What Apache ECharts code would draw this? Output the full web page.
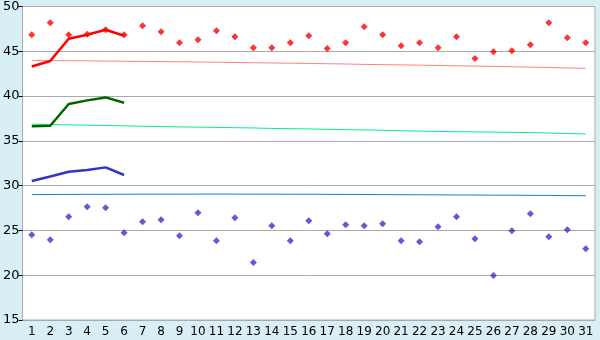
<!DOCTYPE html>
<html>
<head>
<meta charset="utf-8">
<script src="https://cdn.jsdelivr.net/npm/echarts@6/dist/echarts.min.js"></script>
<style>
  html, body { margin: 0; padding: 0; background: #d9eff6; }
  #main { width: 600px; height: 340px; }
</style>
</head>
<body>
<div id="main"></div>
<script>
var days = [];
for (var d = 1; d <= 31; d++) days.push(String(d));

// scatter points
var redPts = [46.85, 48.19, 46.85, 46.9, 47.4, 46.85, 47.85, 47.18, 45.96, 46.3,
  47.3, 46.63, 45.4, 45.4, 45.96, 46.74, 45.3, 45.96, 47.74, 46.85,
  45.63, 45.96, 45.4, 46.63, 44.19, 44.96, 45.07, 45.74, 48.19, 46.52, 45.96];
var bluePts = [24.52, 23.96, 26.52, 27.63, 27.52, 24.74, 25.96, 26.19, 24.41, 26.96,
  23.85, 26.41, 21.41, 25.52, 23.85, 26.08, 24.63, 25.63, 25.52, 25.74,
  23.85, 23.74, 25.41, 26.52, 24.08, 19.96, 24.96, 26.85, 24.3, 25.07, 22.96];

// thick lines, first six days
var redThick = [43.3, 43.92, 46.4, 46.85, 47.4, 46.74];
var greenThick = [36.62, 36.68, 39.11, 39.52, 39.85, 39.26];
var blueThick = [30.52, 31.03, 31.55, 31.74, 32.04, 31.19];

// thin trend lines
var redTrend = [43.98, 43.96, 43.95, 43.93, 43.91, 43.89, 43.87, 43.85, 43.83, 43.8,
  43.78, 43.75, 43.72, 43.7, 43.67, 43.64, 43.61, 43.58, 43.54, 43.51,
  43.48, 43.45, 43.42, 43.38, 43.35, 43.31, 43.27, 43.23, 43.19, 43.14, 43.1];
var greenTrend = [36.87, 36.82, 36.78, 36.75, 36.72, 36.68, 36.63, 36.59, 36.56, 36.53,
  36.5, 36.47, 36.44, 36.39, 36.36, 36.33, 36.29, 36.25, 36.22, 36.18,
  36.13, 36.09, 36.05, 36.02, 36.0, 35.97, 35.95, 35.92, 35.87, 35.82, 35.76];
var blueTrend = [29.0, 29.01, 29.02, 29.03, 29.03, 29.04, 29.05, 29.05, 29.05, 29.06,
  29.06, 29.06, 29.05, 29.05, 29.04, 29.04, 29.03, 29.02, 29.01, 29.0,
  28.99, 28.98, 28.97, 28.96, 28.95, 28.94, 28.93, 28.92, 28.91, 28.89, 28.87];

var yTicks = [15, 20, 25, 30, 35, 40, 45, 50];

var chart = echarts.init(document.getElementById('main'), null, { renderer: 'canvas' });

function thin(data, color) {
  return { type: 'line', data: data, showSymbol: false, silent: true,
    lineStyle: { color: color, width: 1 }, z: 2 };
}
function thick(data, color) {
  return { type: 'line', data: data, showSymbol: false, silent: true,
    lineStyle: { color: color, width: 2.5 }, z: 3 };
}
function dots(data, color) {
  return { type: 'scatter', data: data, symbol: 'diamond', symbolSize: 7,
    itemStyle: { color: color }, z: 4 };
}

var option = {
  backgroundColor: '#d9eff6',
  animation: false,
  textStyle: { fontFamily: 'DejaVu Sans' },
  grid: {
    left: 20, right: 5, top: 5, bottom: 20,
    show: true, backgroundColor: '#ffffff', borderColor: '#aaaaaa', borderWidth: 1
  },
  xAxis: {
    type: 'category',
    data: days,
    boundaryGap: true,
    axisLine: { lineStyle: { color: '#aaaaaa' } },
    axisTick: { alignWithLabel: true, length: 5, lineStyle: { color: '#000' } },
    axisLabel: { color: '#000', fontSize: 12, margin: 6, interval: 0 },
    splitLine: { show: false }
  },
  yAxis: {
    type: 'value',
    min: yTicks[0],
    max: yTicks[yTicks.length - 1],
    interval: 5,
    axisLine: { show: true, lineStyle: { color: '#aaaaaa' } },
    axisTick: { show: true, length: 4, lineStyle: { color: '#000' } },
    axisLabel: { color: '#000', fontSize: 13, margin: 3 },
    splitLine: { lineStyle: { color: '#aaaaaa' } }
  },
  series: [
    thin(redTrend, '#ff8080'),
    thin(greenTrend, '#00f080'),
    thin(blueTrend, '#1a78e8'),
    thick(redThick, '#ff0000'),
    thick(greenThick, '#006400'),
    thick(blueThick, '#3333cc'),
    dots(redPts, '#ff0000'),
    dots(bluePts, '#3333cc')
  ]
};
chart.setOption(option);
</script>
</body>
</html>
